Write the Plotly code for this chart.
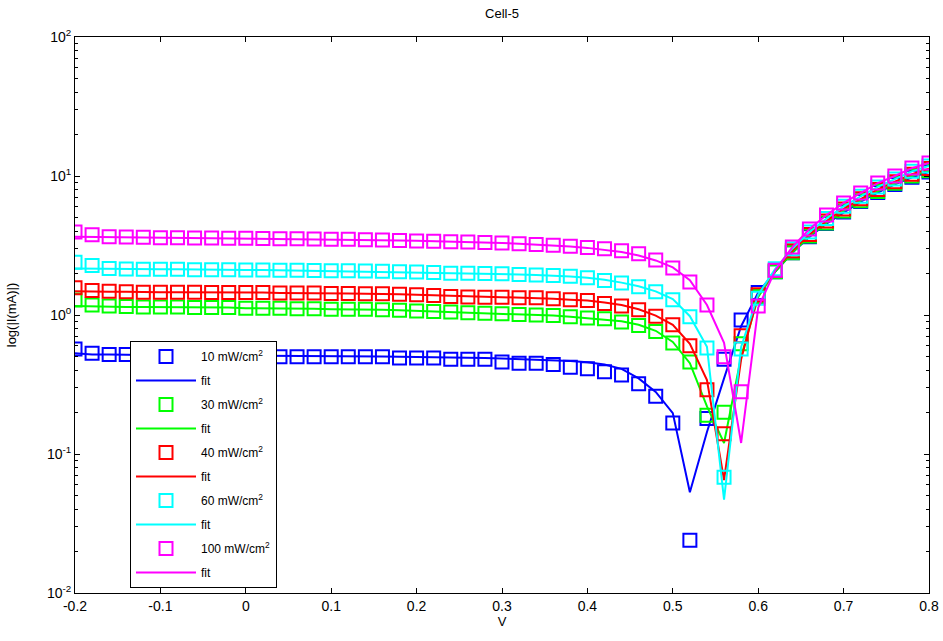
import plotly.graph_objects as go

V = [-0.20, -0.18, -0.16, -0.14, -0.12, -0.10, -0.08, -0.06, -0.04, -0.02,
     0.00, 0.02, 0.04, 0.06, 0.08, 0.10, 0.12, 0.14, 0.16, 0.18,
     0.20, 0.22, 0.24, 0.26, 0.28, 0.30, 0.32, 0.34, 0.36, 0.38,
     0.40, 0.42, 0.44, 0.46, 0.48, 0.50, 0.52, 0.54, 0.56, 0.58,
     0.60, 0.62, 0.64, 0.66, 0.68, 0.70, 0.72, 0.74, 0.76, 0.78, 0.80]

# measured |I| (mA)
I_10 = [0.57, 0.53, 0.52, 0.52, 0.51, 0.51, 0.51, 0.51, 0.51, 0.50,
        0.50, 0.50, 0.50, 0.50, 0.50, 0.50, 0.50, 0.50, 0.50, 0.49,
        0.49, 0.49, 0.48, 0.48, 0.48, 0.46, 0.45, 0.45, 0.44, 0.42,
        0.41, 0.39, 0.37, 0.32, 0.26, 0.167, 0.024, 0.18, 0.48, 0.92,
        1.45, 2.05, 2.8, 3.65, 4.55, 5.5, 6.55, 7.6, 8.7, 9.8, 10.7]
I_30 = [1.28, 1.18, 1.16, 1.15, 1.14, 1.14, 1.14, 1.13, 1.13, 1.13,
        1.12, 1.12, 1.12, 1.11, 1.11, 1.10, 1.10, 1.10, 1.09, 1.08,
        1.07, 1.06, 1.05, 1.04, 1.03, 1.02, 1.01, 1.00, 0.99, 0.97,
        0.95, 0.94, 0.89, 0.84, 0.76, 0.63, 0.46, 0.19, 0.20, 0.62,
        1.36, 2.05, 2.8, 3.7, 4.6, 5.6, 6.65, 7.75, 8.85, 10.0, 10.9]
I_40 = [1.57, 1.50, 1.48, 1.47, 1.46, 1.46, 1.46, 1.46, 1.45, 1.45,
        1.45, 1.45, 1.44, 1.44, 1.44, 1.43, 1.43, 1.42, 1.42, 1.41,
        1.40, 1.38, 1.36, 1.35, 1.34, 1.34, 1.33, 1.33, 1.31, 1.29,
        1.27, 1.21, 1.16, 1.09, 0.98, 0.85, 0.60, 0.29, 0.14, 0.71,
        1.40, 2.1, 2.9, 3.8, 4.75, 5.8, 6.85, 8.0, 9.1, 10.3, 11.3]
I_60 = [2.40, 2.27, 2.16, 2.14, 2.13, 2.13, 2.13, 2.12, 2.12, 2.12,
        2.11, 2.11, 2.10, 2.10, 2.09, 2.08, 2.08, 2.07, 2.06, 2.05,
        2.04, 2.02, 2.00, 2.00, 1.99, 1.98, 1.96, 1.94, 1.92, 1.90,
        1.85, 1.77, 1.70, 1.60, 1.47, 1.29, 0.97, 0.58, 0.068, 0.57,
        1.32, 2.15, 3.0, 3.95, 4.95, 6.05, 7.15, 8.35, 9.5, 10.8, 11.8]
I_100 = [3.95, 3.78, 3.66, 3.64, 3.62, 3.60, 3.60, 3.58, 3.58, 3.57,
         3.56, 3.55, 3.54, 3.53, 3.52, 3.51, 3.50, 3.48, 3.46, 3.43,
         3.41, 3.39, 3.37, 3.35, 3.33, 3.30, 3.26, 3.22, 3.17, 3.12,
         3.06, 3.00, 2.90, 2.76, 2.49, 2.18, 1.73, 1.18, 0.50, 0.28,
         1.16, 2.1, 3.08, 4.16, 5.24, 6.4, 7.55, 8.9, 10.0, 11.4, 12.4]

# fitted |I| (mA)
F_10 = [0.53, 0.52, 0.52, 0.515, 0.515, 0.515, 0.513, 0.512, 0.511, 0.51,
        0.51, 0.51, 0.508, 0.507, 0.506, 0.505, 0.504, 0.503, 0.502, 0.501,
        0.50, 0.498, 0.496, 0.494, 0.49, 0.487, 0.483, 0.479, 0.474, 0.467,
        0.457, 0.44, 0.41, 0.35, 0.28, 0.197, 0.053, 0.144, 0.35, 0.83,
        1.45, 2.05, 2.8, 3.65, 4.55, 5.5, 6.55, 7.6, 8.7, 9.8, 10.7]
F_30 = [1.16, 1.15, 1.15, 1.14, 1.14, 1.14, 1.13, 1.13, 1.13, 1.13,
        1.12, 1.12, 1.12, 1.11, 1.11, 1.10, 1.10, 1.10, 1.09, 1.08,
        1.07, 1.06, 1.05, 1.04, 1.04, 1.03, 1.02, 1.01, 0.99, 0.97,
        0.95, 0.93, 0.90, 0.85, 0.77, 0.64, 0.45, 0.22, 0.12, 0.50,
        1.35, 2.05, 2.8, 3.7, 4.6, 5.6, 6.65, 7.75, 8.85, 10.0, 10.9]
F_40 = [1.48, 1.47, 1.47, 1.47, 1.46, 1.46, 1.46, 1.46, 1.45, 1.45,
        1.45, 1.45, 1.44, 1.44, 1.44, 1.43, 1.43, 1.42, 1.42, 1.41,
        1.40, 1.39, 1.38, 1.37, 1.36, 1.35, 1.34, 1.33, 1.31, 1.29,
        1.27, 1.23, 1.18, 1.10, 0.99, 0.85, 0.62, 0.34, 0.065, 0.48,
        1.40, 2.1, 2.9, 3.8, 4.75, 5.8, 6.85, 8.0, 9.1, 10.3, 11.3]
F_60 = [2.16, 2.15, 2.14, 2.14, 2.13, 2.13, 2.13, 2.12, 2.12, 2.12,
        2.11, 2.11, 2.10, 2.10, 2.09, 2.08, 2.08, 2.07, 2.06, 2.05,
        2.04, 2.03, 2.02, 2.01, 2.00, 1.98, 1.96, 1.94, 1.92, 1.89,
        1.85, 1.79, 1.71, 1.61, 1.48, 1.30, 0.98, 0.59, 0.047, 0.59,
        1.40, 2.15, 3.0, 3.95, 4.95, 6.05, 7.15, 8.35, 9.5, 10.8, 11.8]
F_100 = [3.66, 3.65, 3.64, 3.63, 3.62, 3.61, 3.60, 3.59, 3.58, 3.57,
         3.56, 3.55, 3.54, 3.53, 3.52, 3.51, 3.50, 3.48, 3.46, 3.44,
         3.42, 3.40, 3.37, 3.35, 3.32, 3.29, 3.26, 3.22, 3.17, 3.11,
         3.04, 2.95, 2.84, 2.68, 2.47, 2.20, 1.78, 1.18, 0.63, 0.12,
         1.13, 2.1, 3.08, 4.16, 5.24, 6.4, 7.55, 8.9, 10.0, 11.4, 12.4]

labels = ["10 mW/cm<sup>2</sup>", "30 mW/cm<sup>2</sup>", "40 mW/cm<sup>2</sup>",
          "60 mW/cm<sup>2</sup>", "100 mW/cm<sup>2</sup>"]
colors = ["#0000FF", "#00FF00", "#FF0000", "#00FFFF", "#FF00FF"]
data_series = [I_10, I_30, I_40, I_60, I_100]
fit_series = [F_10, F_30, F_40, F_60, F_100]

y_tickvals = [0.01, 0.1, 1, 10, 100]
y_ticktext = ["10<sup>-2</sup>", "10<sup>-1</sup>", "10<sup>0</sup>", "10<sup>1</sup>", "10<sup>2</sup>"]
y_minorvals = [m * d for d in (0.01, 0.1, 1, 10) for m in (2, 3, 4, 5, 6, 7, 8, 9)]
x_tickvals = [-0.2, -0.1, 0, 0.1, 0.2, 0.3, 0.4, 0.5, 0.6, 0.7, 0.8]
x_ticktext = ["-0.2", "-0.1", "0", "0.1", "0.2", "0.3", "0.4", "0.5", "0.6", "0.7", "0.8"]

fig = go.Figure()
k = 0
for lab, col, d, f in zip(labels, colors, data_series, fit_series):
    fig.add_trace(go.Scatter(
        x=V, y=d, mode="markers", name=lab, legendgroup="g%d" % k,
        marker=dict(symbol="square-open", size=13, color=col, line=dict(width=2, color=col)),
    ))
    k += 1
    fig.add_trace(go.Scatter(
        x=V, y=f, mode="lines", name="fit", legendgroup="g%d" % k,
        line=dict(color=col, width=2),
    ))
    k += 1

font_family = "Liberation Sans, Arial, sans-serif"
fig.update_layout(
    width=943, height=641,
    margin=dict(l=75, r=14, t=37, b=48, autoexpand=False),
    paper_bgcolor="white", plot_bgcolor="white",
    font=dict(family=font_family, size=13, color="black"),
    title=dict(text="Cell-5", x=(75 + 929) / 2 / 943, xanchor="center", y=1 - 13 / 641,
               yanchor="middle", font=dict(size=13)),
    showlegend=True,
    legend=dict(
        x=(130 - 75) / 854, y=(593 - 341) / 556, xanchor="left", yanchor="top",
        bgcolor="white", bordercolor="black", borderwidth=1,
        font=dict(size=12), itemwidth=60, tracegroupgap=5,
    ),
    xaxis=dict(
        range=[-0.2, 0.8], tickvals=x_tickvals, ticktext=x_ticktext, automargin=False,
        ticks="inside", ticklen=5, tickcolor="black", showline=True, linecolor="black",
        linewidth=1, mirror="allticks", showgrid=False, zeroline=False,
        title=dict(text="V", standoff=4, font=dict(size=13)),
        tickfont=dict(size=14),
    ),
    yaxis=dict(
        type="log", range=[-2, 2], tickvals=y_tickvals, ticktext=y_ticktext, automargin=False,
        ticks="inside", ticklen=5, tickcolor="black", showline=True, linecolor="black",
        linewidth=1, mirror="allticks", showgrid=False, zeroline=False,
        minor=dict(tickmode="array", tickvals=y_minorvals, ticks="inside", ticklen=3,
                   tickcolor="black", showgrid=False),
        title=dict(text="log(|I(mA)|)", standoff=27, font=dict(size=13)),
        tickfont=dict(size=14),
    ),
)

fig.write_html("out.html")
